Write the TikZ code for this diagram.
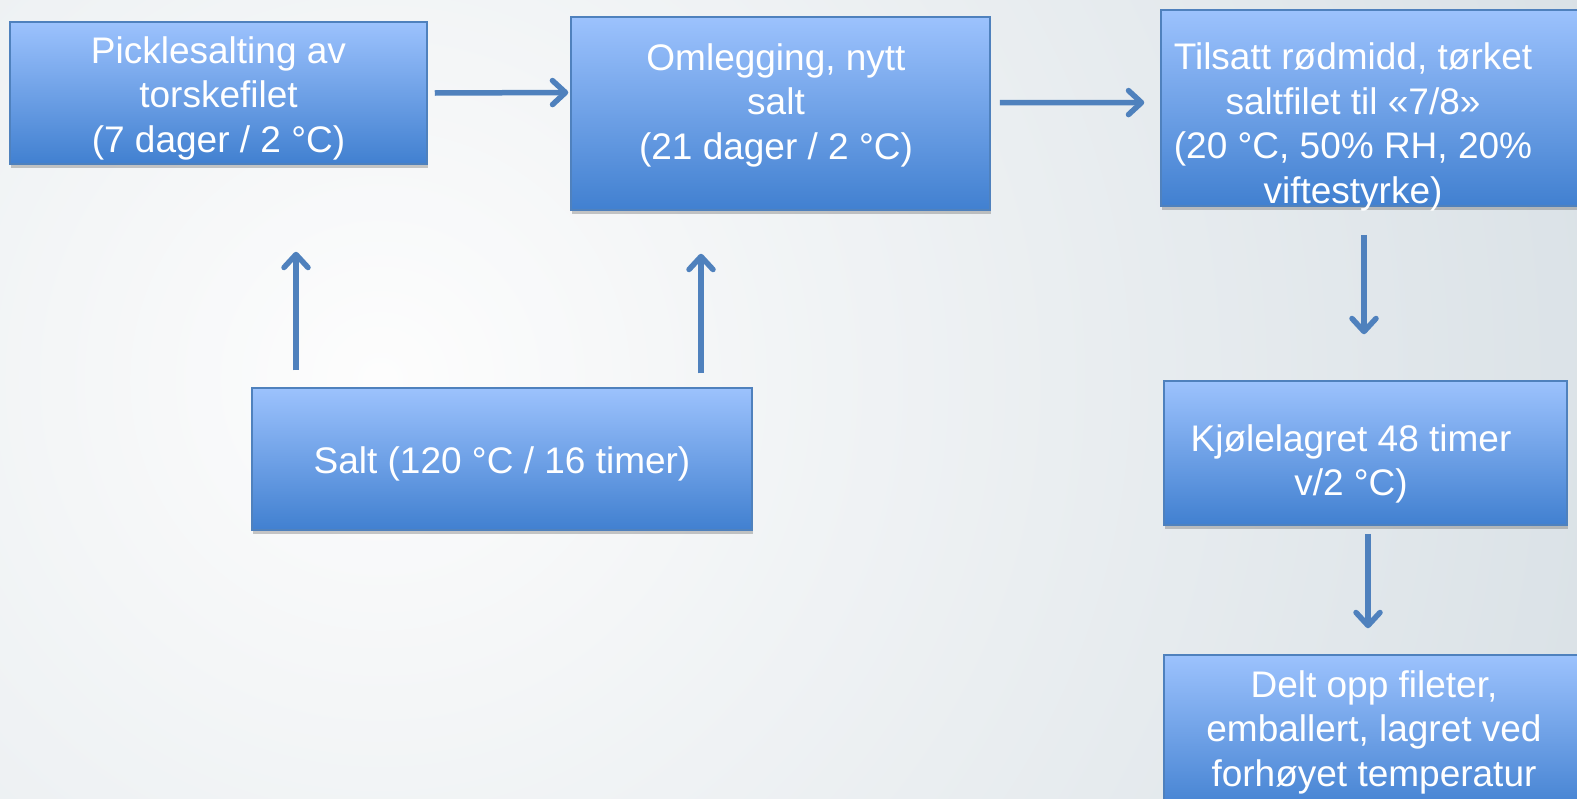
\documentclass[tikz,border=0pt]{standalone}
\usepackage{fontspec}
\setmainfont{Liberation Sans}
\usetikzlibrary{arrows.meta,shadows}
\definecolor{boxtop}{HTML}{9CC2FD}
\definecolor{boxbot}{HTML}{4180D0}
\definecolor{boxline}{HTML}{4F81BD}
\definecolor{arrcol}{HTML}{4F81BD}
\definecolor{bgin}{HTML}{FDFDFD}
\definecolor{bgout}{HTML}{D3DCE2}
\begin{document}
\begin{tikzpicture}[x=1pt,y=-1pt,
  box/.style={rectangle, draw=boxline, line width=1.5pt, top color=boxtop, bottom color=boxbot,
    drop shadow={shadow xshift=1pt, shadow yshift=-3.5pt, opacity=0.3, fill=black!70},
    inner sep=0pt},
  txt/.style={text=white, align=center, inner sep=0pt, font=\fontsize{37}{44.5}\selectfont},
  arr/.style={draw=arrcol, line width=5.5pt, -{Straight Barb[length=13pt,width=24pt,round]}}]
\useasboundingbox (0,0) rectangle (1577,798);
\clip (0,0) rectangle (1577,798);
\begin{scope}
\clip (0,0) rectangle (1577,798);
\shade[inner color=bgin, outer color=bgout] (380,380) circle[radius=1500];
\end{scope}
% boxes
\node[box, minimum width=417, minimum height=142] (b1) at (218.5,93) {};
\node[txt] (t1) at (218.5,98) {Picklesalting av\\torskefilet\\(7 dager / 2 °C)};
\node[box, minimum width=419, minimum height=193] (b2) at (780.5,113.5) {};
\node[txt] (t2) at (776,105) {Omlegging, nytt\\salt\\(21 dager / 2 °C)};
\node[box, minimum width=429, minimum height=196] (b3) at (1375.5,108) {};
\node[txt] (t3) at (1353,127) {Tilsatt rødmidd, tørket\\saltfilet til «7/8»\\(20 °C, 50\% RH, 20\%\\viftestyrke)};
\node[box, minimum width=403, minimum height=144] (b4) at (1365.5,453) {};
\node[txt] (t4) at (1351,464) {Kjølelagret 48 timer\\v/2 °C)};
\node[box, minimum width=420, minimum height=160] (b5) at (1374,735) {};
\node[txt] (t5) at (1374,732) {Delt opp fileter,\\emballert, lagret ved\\forhøyet temperatur};
\node[box, minimum width=500, minimum height=142] (b6) at (502,459) {};
\node[txt] (t6) at (502,464) {Salt (120 °C / 16 timer)};
% arrows
\draw[arr] ([xshift=7pt]b1.east) -- ([xshift=-2pt,yshift=21pt]b2.west);
\draw[arr] ([xshift=9pt,yshift=11pt]b2.east) -- ([xshift=-16pt,yshift=5.4pt]b3.west);
\draw[arr] ([xshift=-11.5pt,yshift=-28pt]b3.south) -- ([xshift=-1.5pt,yshift=46pt]b4.north);
\draw[arr] ([xshift=2.5pt,yshift=-8pt]b4.south) -- ([xshift=-6pt,yshift=26pt]b5.north);
\draw[arr] ([xshift=-206pt,yshift=17pt]b6.north) -- ([xshift=77.5pt,yshift=-87pt]b1.south);
\draw[arr] ([xshift=199pt,yshift=14pt]b6.north) -- ([xshift=-79.5pt,yshift=-43pt]b2.south);
\end{tikzpicture}
\end{document}
